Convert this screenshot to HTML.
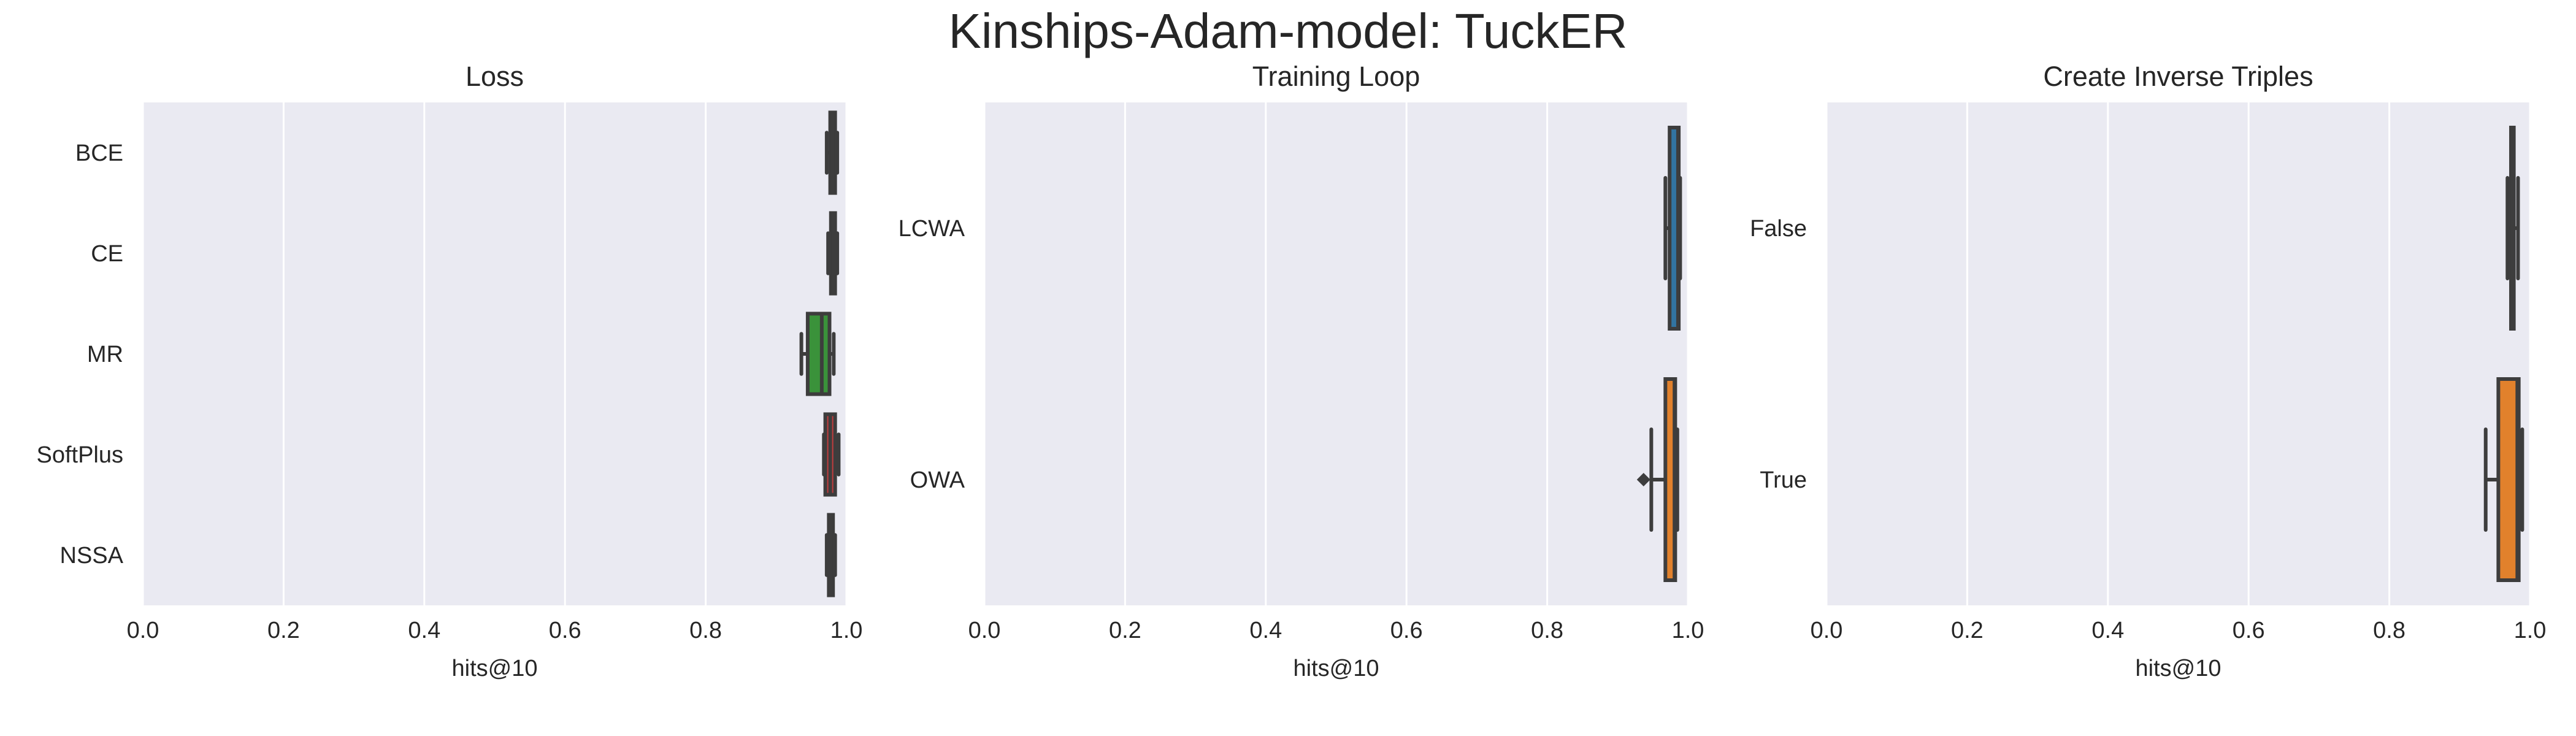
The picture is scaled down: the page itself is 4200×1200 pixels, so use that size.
<!DOCTYPE html>
<html><head><meta charset="utf-8"><style>
body{margin:0;background:#fff;}
svg{display:block;font-family:"Liberation Sans",Arial,sans-serif;}
</style></head><body>
<svg id="chart" width="4200" height="1200" viewBox="0 0 4200 1200" xmlns="http://www.w3.org/2000/svg">
<text x="2100" y="78" font-size="80" text-anchor="middle" fill="#262626">Kinships-Adam-model: TuckER</text>
</svg>
<script>
// Loss panel data
const lossCats = ["BCE","CE","MR","SoftPlus","NSSA"];
const lossQ1 = [0.977,0.978,0.945,0.970,0.975];
const lossMed = [0.980,0.981,0.965,0.977,0.978];
const lossQ3 = [0.984,0.984,0.976,0.984,0.981];
const lossLo = [0.972,0.974,0.936,0.968,0.972];
const lossHi = [0.987,0.987,0.982,0.989,0.984];
const lossColors = ["#3274a1","#e1812c","#3a923a","#c03d3e","#9372b2"];
// Training loop panel data
const loopCats = ["LCWA","OWA"];
const loopQ1 = [0.974,0.968];
const loopMed = [0.986,0.981];
const loopQ3 = [0.987,0.982];
const loopLo = [0.968,0.948];
const loopHi = [0.989,0.985];
const loopOutliers = [[],[0.937]];
const loopColors = ["#3274a1","#e1812c"];
// Inverse triples panel data
const invCats = ["False","True"];
const invQ1 = [0.973,0.955];
const invMed = [0.975,0.982];
const invQ3 = [0.977,0.984];
const invLo = [0.968,0.937];
const invHi = [0.983,0.989];
const invColors = ["#3274a1","#e1812c"];
const xTicks = [0,0.2,0.4,0.6,0.8,1.0];
const xTickLabels = ["0.0","0.2","0.4","0.6","0.8","1.0"];

const NS="http://www.w3.org/2000/svg";
const svg=document.getElementById('chart');
function mk(tag,attrs,parent){const e=document.createElementNS(NS,tag);for(const k in attrs)e.setAttribute(k,attrs[k]);(parent||svg).appendChild(e);return e;}

function panel(key,x0,title,cats,q1,med,q3,lo,hi,colors,outl){
  const W=1147,top=167,bottom=987,H=bottom-top;
  const g=mk('g',{});
  
  
  const xs=v=>x0+v*W;
  const band=H/cats.length;
  const yc=i=>top+band*(i+0.5);
  const bg=mk('rect',{x:x0,y:top,width:W,height:H,fill:'#eaeaf2'},g);
  
  
  xTicks.forEach((t,i)=>{
    const gl=mk('line',{x1:xs(t),x2:xs(t),y1:top,y2:bottom,stroke:'#fff','stroke-width':3},g);
    
    
    const tl=mk('text',{x:xs(t),y:1040,'font-size':38,'text-anchor':'middle',fill:'#262626'},g);
    tl.textContent=xTickLabels[i];
    
    
  });
  const tt=mk('text',{x:x0+W/2,y:140,'font-size':45,'text-anchor':'middle',fill:'#262626'},g);
  tt.textContent=title;
  
  
  const xl=mk('text',{x:x0+W/2,y:1102,'font-size':38,'text-anchor':'middle',fill:'#262626'},g);
  xl.textContent='hits@10';
  
  
  const bw=band*0.8, ec='#3d3d3d', sw=6;
  cats.forEach((c,i)=>{
    const y=yc(i);
    const yl=mk('text',{x:x0-32,y:y+13,'font-size':38,'text-anchor':'end',fill:'#262626'},g);
    yl.textContent=c;
    
    
    const bx=mk('g',{},g);
    
    
    mk('line',{x1:xs(lo[i]),x2:xs(q1[i]),y1:y,y2:y,stroke:ec,'stroke-width':sw},bx);
    mk('line',{x1:xs(q3[i]),x2:xs(hi[i]),y1:y,y2:y,stroke:ec,'stroke-width':sw},bx);
    mk('line',{x1:xs(lo[i]),x2:xs(lo[i]),y1:y-bw/4,y2:y+bw/4,stroke:ec,'stroke-width':sw,'stroke-linecap':'round'},bx);
    mk('line',{x1:xs(hi[i]),x2:xs(hi[i]),y1:y-bw/4,y2:y+bw/4,stroke:ec,'stroke-width':sw,'stroke-linecap':'round'},bx);
    mk('rect',{x:xs(q1[i]),y:y-bw/2,width:Math.max(0.5,xs(q3[i])-xs(q1[i])),height:bw,fill:colors[i],stroke:ec,'stroke-width':sw},bx);
    mk('line',{x1:xs(med[i]),x2:xs(med[i]),y1:y-bw/2,y2:y+bw/2,stroke:ec,'stroke-width':sw},bx);
    if(outl) outl[i].forEach(o=>{
      const d=mk('path',{d:`M${xs(o)-11},${y} L${xs(o)},${y-11} L${xs(o)+11},${y} L${xs(o)},${y+11} Z`,fill:ec},bx);
      
      
    });
  });
}
panel('loss',233,'Loss',lossCats,lossQ1,lossMed,lossQ3,lossLo,lossHi,lossColors,null);
panel('training-loop',1605,'Training Loop',loopCats,loopQ1,loopMed,loopQ3,loopLo,loopHi,loopColors,loopOutliers);
panel('inverse-triples',2978,'Create Inverse Triples',invCats,invQ1,invMed,invQ3,invLo,invHi,invColors,null);
</script>
</body></html>
